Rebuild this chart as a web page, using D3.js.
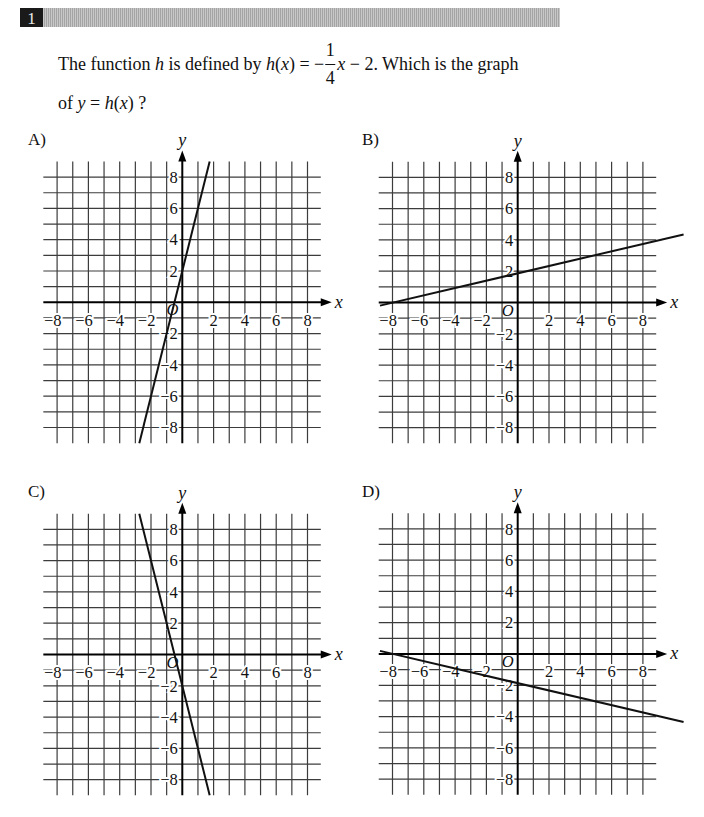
<!DOCTYPE html>
<html>
<head>
<meta charset="utf-8">
<script src="https://cdn.jsdelivr.net/npm/d3@7/dist/d3.min.js"></script>
<style>
  html, body { margin: 0; padding: 0; background: #fff; }
  svg { display: block; }
  text { font-family: "Liberation Serif", "DejaVu Serif", serif; fill: #111; }
</style>
</head>
<body>
<svg id="chart" width="704" height="817"></svg>
<script>
// ---------- data ----------
const questionNumber = "1";
const panelLabels = ["A)", "B)", "C)", "D)"];
// line endpoints (x and y in graph units)
const lineX = [[-2.75, 1.75], [-8.8, 10.6], [-2.75, 1.75], [-8.8, 10.6]];
const lineY = [[-9, 9], [-0.2, 4.35], [9, -9], [0.2, -4.35]];
const gridValues = [-8, -7, -6, -5, -4, -3, -2, -1, 1, 2, 3, 4, 5, 6, 7, 8];
const tickLabels = [-8, -6, -4, -2, 2, 4, 6, 8];

// ---------- layout ----------
const svg = d3.select("#chart");
const unit = 15.65;
const origins = [[182.3, 302.3], [517.7, 302.5], [182.3, 654.5], [517.7, 654.0]];
const labelPos = [[28, 145], [362, 145], [28, 497], [362, 497]];

// header bar
const defs = svg.append("defs");
const pat = defs.append("pattern").attr("id", "hatch").attr("patternUnits", "userSpaceOnUse")
  .attr("width", 2).attr("height", 2);
pat.append("rect").attr("width", 2).attr("height", 2).attr("fill", "#c8c8c8");
pat.append("rect").attr("width", 1).attr("height", 2).attr("fill", "#a4a4a4");
svg.append("rect").attr("x", 43).attr("y", 8).attr("width", 517).attr("height", 19).attr("fill", "url(#hatch)");
svg.append("rect").attr("x", 20).attr("y", 8).attr("width", 23).attr("height", 19).attr("fill", "#1a1a1a");
svg.append("text").attr("x", 31.5).attr("y", 24).attr("text-anchor", "middle")
  .style("fill", "#e8e8e8").style("font-size", "17px").text(questionNumber);

// question text
const fs = 18;
const line1a = svg.append("text").attr("x", 58).attr("y", 70).style("font-size", fs + "px");
[["The function ", false], ["h", true], [" is defined by ", false], ["h", true], ["(", false], ["x", true], [") = \u2212", false]]
  .forEach(([t, it]) => line1a.append("tspan").style("font-style", it ? "italic" : "normal").text(t));
const endA = 58 + line1a.node().getComputedTextLength();
const fracW = 10;
svg.append("text").attr("x", endA + 1 + fracW / 2).attr("y", 56).attr("text-anchor", "middle").style("font-size", fs + "px").text("1");
svg.append("line").attr("x1", endA + 1).attr("x2", endA + 1 + fracW).attr("y1", 64.5).attr("y2", 64.5)
  .attr("stroke", "#111").attr("stroke-width", 1);
svg.append("text").attr("x", endA + 1 + fracW / 2).attr("y", 84).attr("text-anchor", "middle").style("font-size", fs + "px").text("4");
const line1b = svg.append("text").attr("x", endA + fracW + 3).attr("y", 70).style("font-size", fs + "px");
[["x", true], [" \u2212 2. Which is the graph", false]]
  .forEach(([t, it]) => line1b.append("tspan").style("font-style", it ? "italic" : "normal").text(t));
const line2 = svg.append("text").attr("x", 58).attr("y", 109).style("font-size", fs + "px");
[["of ", false], ["y", true], [" = ", false], ["h", true], ["(", false], ["x", true], [") ?", false]]
  .forEach(([t, it]) => line2.append("tspan").style("font-style", it ? "italic" : "normal").text(t));

// ---------- panels ----------
panelLabels.forEach((lab, i) => {
  const [ox, oy] = origins[i];
  const x = d3.scaleLinear().domain([-10, 10]).range([ox - 10 * unit, ox + 10 * unit]);
  const y = d3.scaleLinear().domain([-10, 10]).range([oy + 10 * unit, oy - 10 * unit]);
  const g = svg.append("g");

  g.append("text").attr("x", labelPos[i][0]).attr("y", labelPos[i][1]).style("font-size", "17px").text(lab);

  // grid
  g.selectAll("line.vg").data(gridValues).join("line").attr("class", "vg")
    .attr("x1", d => x(d)).attr("x2", d => x(d)).attr("y1", y(9)).attr("y2", y(-9))
    .attr("stroke", "#3c3c3c").attr("stroke-width", 1.2);
  g.selectAll("line.hg").data(gridValues).join("line").attr("class", "hg")
    .attr("y1", d => y(d)).attr("y2", d => y(d)).attr("x1", x(-8.88)).attr("x2", x(8.85))
    .attr("stroke", "#3c3c3c").attr("stroke-width", 1.2);

  // tick labels (with white knock-out)
  const tl = g.append("g").style("font-size", "16.5px");
  tl.selectAll("text.xl").data(tickLabels).join("text").attr("class", "xl")
    .attr("x", d => d < 0 ? x(d) + 4.4 : x(d))
    .attr("y", y(-1.13)).attr("dy", "0.35em")
    .attr("text-anchor", d => d < 0 ? "end" : "middle")
    .attr("stroke", "#fff").attr("stroke-width", 4).attr("paint-order", "stroke")
    .text(d => d < 0 ? "\u2212" + Math.abs(d) : d);
  tl.selectAll("text.yl").data(tickLabels).join("text").attr("class", "yl")
    .attr("x", x(0) - 4.5).attr("y", d => y(d)).attr("dy", "0.35em")
    .attr("text-anchor", "end")
    .attr("stroke", "#fff").attr("stroke-width", 4).attr("paint-order", "stroke")
    .text(d => d < 0 ? "\u2212" + Math.abs(d) : d);
  g.append("text").attr("x", x(0) - 4).attr("y", oy + 13).attr("text-anchor", "end")
    .style("font-size", "16.5px").style("font-style", "italic").text("O");

  // axes
  g.append("line").attr("x1", x(-8.88)).attr("x2", x(9.0)).attr("y1", y(0)).attr("y2", y(0))
    .attr("stroke", "#000").attr("stroke-width", 2);
  g.append("line").attr("x1", x(0)).attr("x2", x(0)).attr("y1", y(-9)).attr("y2", y(9.1))
    .attr("stroke", "#000").attr("stroke-width", 2);
  const tipX = x(9.55), tipY = y(9.7);
  g.append("path").attr("d", `M${tipX},${y(0)} L${tipX - 11},${y(0) - 4} L${tipX - 11},${y(0) + 4} Z`).attr("fill", "#000");
  g.append("path").attr("d", `M${x(0)},${tipY} L${x(0) - 4},${tipY + 11} L${x(0) + 4},${tipY + 11} Z`).attr("fill", "#000");
  g.append("text").attr("x", tipX + 3).attr("y", y(0)).attr("dy", "0.3em")
    .style("font-size", "18px").style("font-style", "italic").text("x");
  g.append("text").attr("x", x(0)).attr("y", tipY - 4).attr("text-anchor", "middle")
    .style("font-size", "18px").style("font-style", "italic").text("y");

  // function line
  g.append("line")
    .attr("x1", x(lineX[i][0])).attr("y1", y(lineY[i][0]))
    .attr("x2", x(lineX[i][1])).attr("y2", y(lineY[i][1]))
    .attr("stroke", "#111").attr("stroke-width", 2);
});
</script>
</body>
</html>
